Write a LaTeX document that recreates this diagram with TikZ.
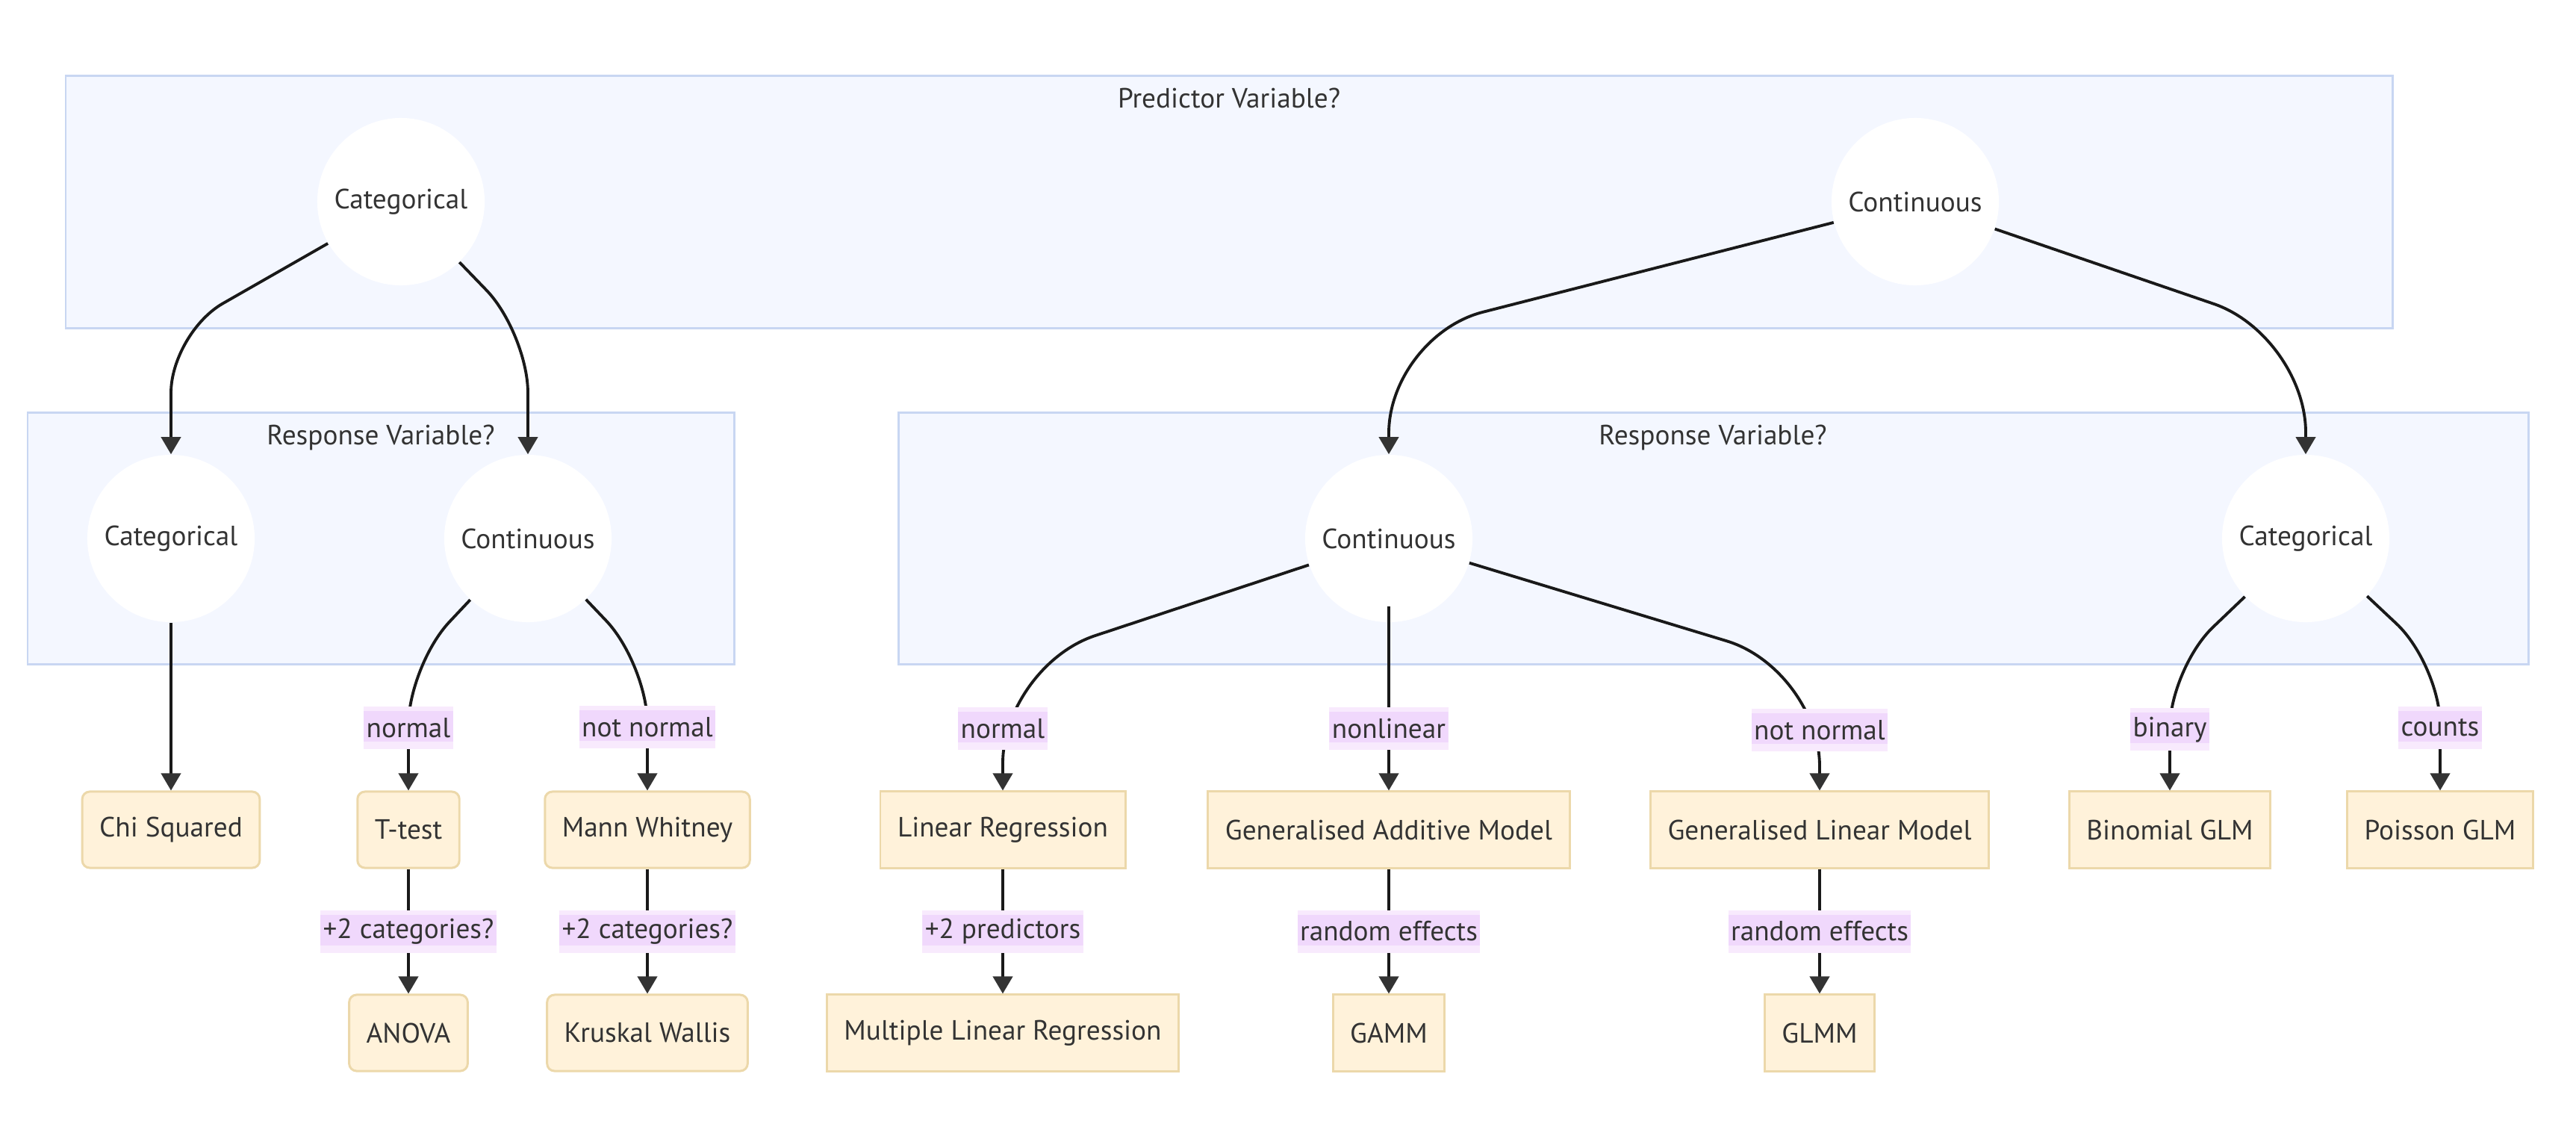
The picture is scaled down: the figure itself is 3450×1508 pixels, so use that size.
\documentclass[tikz,border=0pt]{standalone}
\usepackage{fontspec}
\setmainfont{PT Sans}
\usetikzlibrary{calc}
\usetikzlibrary{arrows.meta}
\definecolor{clusterfill}{RGB}{244,247,255}
\definecolor{clusterline}{RGB}{200,214,242}
\definecolor{boxfill}{RGB}{255,242,218}
\definecolor{boxline}{RGB}{236,216,170}
\definecolor{lbldark}{RGB}{240,216,252}
\definecolor{lbllight}{RGB}{248,234,253}
\definecolor{ink}{RGB}{51,51,51}
\tikzset{
cluster/.style={draw=clusterline, fill=clusterfill, line width=0.85pt},
ctitle/.style={anchor=base, text=ink},
choice/.style={circle, fill=white, minimum size=2.24cm, inner sep=0pt, text=ink},
test/.style={draw=boxline, fill=boxfill, line width=0.85pt, minimum height=1.02cm, inner xsep=0.23cm, text=ink},
rtest/.style={test, rounded corners=0.1cm},
elabel/.style={sharp corners, fill=lbllight, inner xsep=1pt, inner ysep=0pt, minimum height=0.57cm, text=ink,
	path picture={
		\fill[lbldark] ($(path picture bounding box.north west)+(0,6)$) rectangle ($(path picture bounding box.south east)+(0,-10)$);
	}
},
edge/.style={line width=1.1pt, draw=black!90, rounded corners=0.8cm,
	-{Triangle[length=0.23cm, width=0.26cm, color=ink]}},
wide/.style={rounded corners=1.3cm},
}

\begin{document}
\begin{tikzpicture}[x=0.01cm, y=-0.01cm, font=\fontsize{10.6pt}{12pt}\selectfont]
\useasboundingbox (0,0) rectangle (3450,1508);

%Clusters
\draw[cluster] (88,101) rectangle (3204,439);
\draw[cluster] (37,552) rectangle (983,889);
\draw[cluster] (1203,552) rectangle (3386,889);
\node[ctitle] (ptitle) at (1646,144) {Predictor Variable?};
\node[ctitle] (rtitle) at (510,595) {Response Variable?};
\node[ctitle] (rtitle2) at (2294,595) {Response Variable?};

%Place the nodes
\node[choice] (pcat) at (537,270) {Categorical};
\node[choice] (pcont) at (2565,270) {Continuous};
\node[choice] (rcat) at (229,721) {Categorical};
\node[choice] (rcont) at (707,721) {Continuous};
\node[choice] (rcont2) at (1860,721) {Continuous};
\node[choice] (rcat2) at (3088,721) {Categorical};

\node[rtest] (chi) at (229,1111) {Chi Squared};
\node[rtest] (ttest) at (547,1111) {T-test};
\node[rtest] (mann) at (867,1111) {Mann Whitney};
\node[test] (linreg) at (1343,1111) {Linear Regression};
\node[test] (gam) at (1860,1111) {Generalised Additive Model};
\node[test] (glm) at (2437,1111) {Generalised Linear Model};
\node[test] (binom) at (2906,1111) {Binomial GLM};
\node[test] (pois) at (3268,1111) {Poisson GLM};

\node[rtest] (anova) at (547,1383) {ANOVA};
\node[rtest] (kruskal) at (867,1383) {Kruskal Wallis};
\node[test] (mlr) at (1343,1383) {Multiple Linear Regression};
\node[test] (gamm) at (1860,1383) {GAMM};
\node[test] (glmm) at (2437,1383) {GLMM};

%
\draw[edge] (pcat) -- (229,446) -- (rcat);
\draw[edge] (pcat) -- (707,446) -- (rcont);
\draw[edge, wide] (pcont) -- (1860,450) -- (rcont2);
\draw[edge, wide] (pcont) -- (3088,449) -- (rcat2);

%
\draw[edge] (rcat) -- (chi);
\draw[edge] (rcont) -- (547,891) -- node[elabel] {normal} (ttest);
\draw[edge] (rcont) -- (867,889) -- node[elabel] {not normal} (mann);
\draw[edge, wide] (rcont2) -- (1343,892) -- node[elabel] {normal} (linreg);
\draw[edge] (rcont2) -- (1860,892) -- node[elabel] {nonlinear} (gam);
\draw[edge, wide] (rcont2) -- (2437,896) -- node[elabel] {not normal} (glm);
\draw[edge] (rcat2) -- (2906,895) -- node[elabel] {binary} (binom);
\draw[edge] (rcat2) -- (3268,890) -- node[elabel] {counts} (pois);

%
\draw[edge] (ttest) -- node[elabel] {+2 categories?} (anova);
\draw[edge] (mann) -- node[elabel] {+2 categories?} (kruskal);
\draw[edge] (linreg) -- node[elabel] {+2 predictors} (mlr);
\draw[edge] (gam) -- node[elabel] {random effects} (gamm);
\draw[edge] (glm) -- node[elabel] {random effects} (glmm);

\end{tikzpicture}
\end{document}
